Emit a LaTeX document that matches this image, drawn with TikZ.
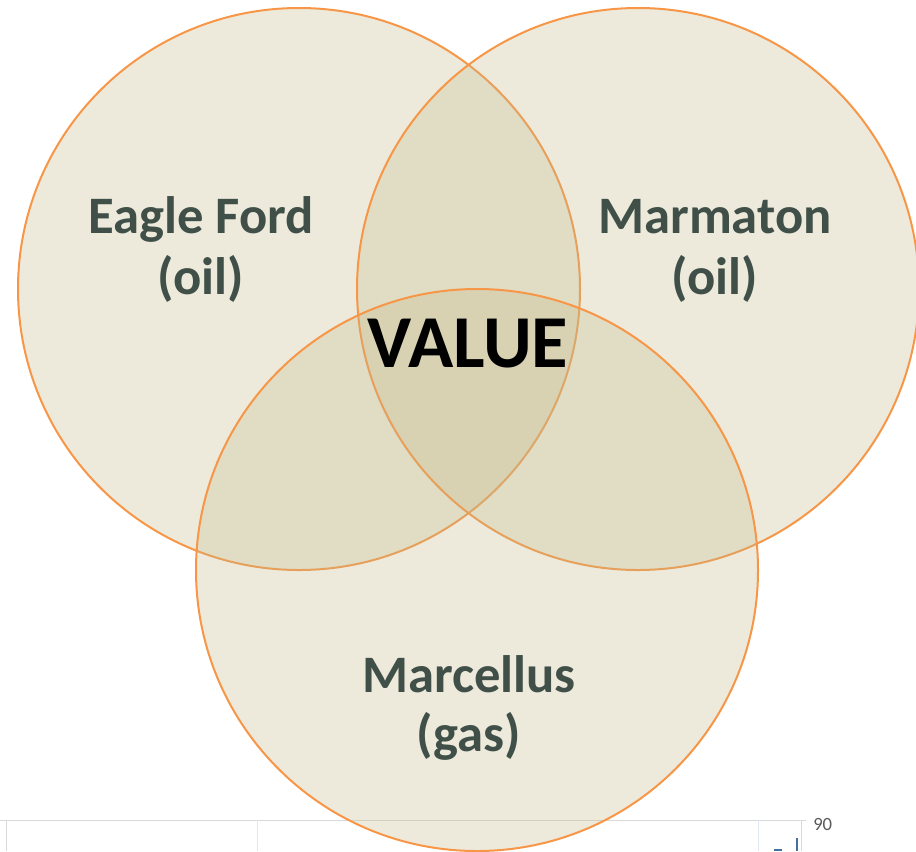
\documentclass[tikz,border=0pt]{standalone}
\usepackage{fontspec}
\setmainfont{Carlito}
\definecolor{ringorange}{RGB}{247,150,70}
\definecolor{sandfill}{RGB}{196,186,140}
\definecolor{labelgray}{RGB}{64,80,72}
\definecolor{gridgray}{RGB}{217,217,217}
\definecolor{gridblue}{RGB}{222,232,244}
\definecolor{tickblue}{RGB}{68,114,160}
\tikzstyle{field}=[circle, draw=ringorange, line width=1.5pt, fill=sandfill, fill opacity=0.3, inner sep=0pt, minimum size=421.5pt]
\tikzstyle{fieldname}=[anchor=base, text=labelgray, font=\fontsize{39.5}{44}\selectfont\bfseries]
\newcommand{\field}{\node[field]}
\newcommand{\fieldname}{\node[fieldname]}

\begin{document}
\begin{tikzpicture}[x=0.75pt,y=-0.75pt]
            \useasboundingbox (0,0) rectangle (916,851);
            % bits of the chart behind
            \draw[gridgray] (0,820) -- (806,820);
            \draw[gridgray] (6,820) -- (6,851);
            \draw[gridblue] (257,820) -- (257,851);
            \draw[gridblue] (758,820) -- (758,851);
            \draw[gridgray] (801,820) -- (801,851);
            \draw[tickblue, line width=1.2pt] (797,838) -- (797,851);
            \draw[tickblue, line width=1.2pt] (774,850) -- (782,850);
            \node[anchor=west, text=black!65, font=\fontsize{14}{15}\selectfont, inner sep=0pt] (ninety) at (813,824) {90};
            % the three plays
            \field (eagle) at (299,289){};
            \field (marmaton) at (638,289){};
            \field (marcellus) at (477,570){};
            \fieldname (eaglename) at (201,233){Eagle Ford};
            \fieldname (eagleoil) at (201,294){(oil)};
            \fieldname (marmatonname) at (715,233){Marmaton};
            \fieldname (marmatonoil) at (715,294){(oil)};
            \fieldname (marcellusname) at (469,692){Marcellus};
            \fieldname (marcellusgas) at (469,751){(gas)};
            \node[anchor=base, font=\fontsize{56}{60}\selectfont\bfseries] (value) at (468,367){VALUE};
        \end{tikzpicture}
\end{document}
